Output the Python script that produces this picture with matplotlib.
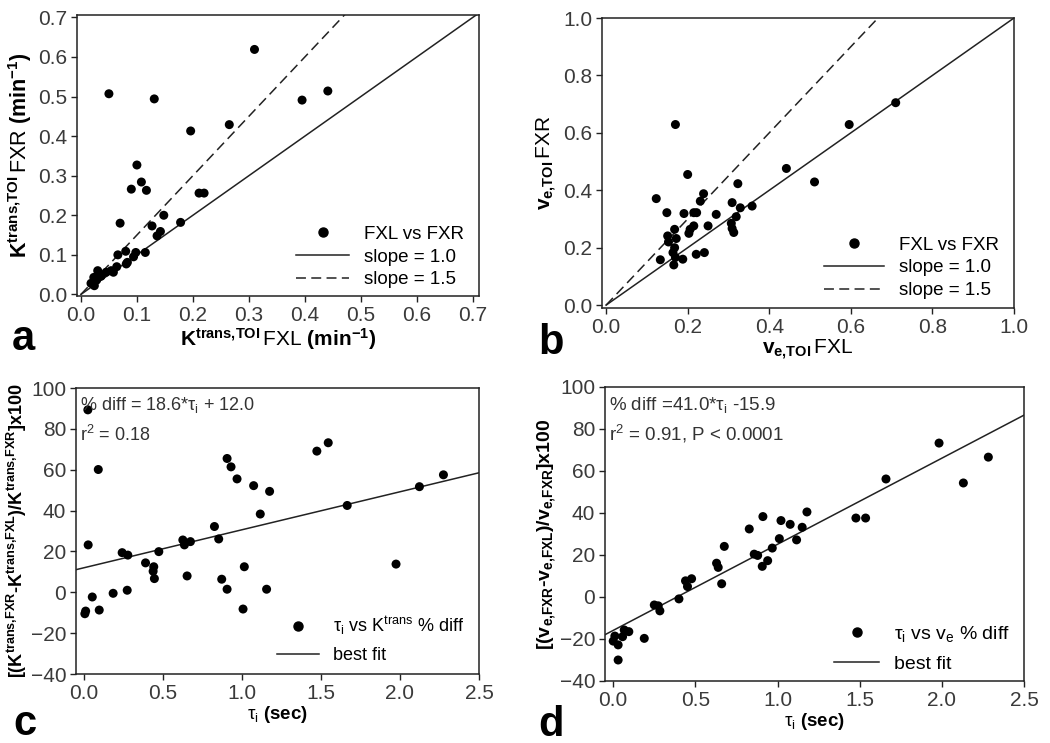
import matplotlib
matplotlib.use("Agg")
import matplotlib.pyplot as plt
from matplotlib import rc
from matplotlib.lines import Line2D
import numpy as np


# Fonts: Arial-like everywhere, also inside mathtext
rc('font', family='Liberation Sans', size=13)
rc('mathtext', fontset='custom', rm='Liberation Sans',
   it='Liberation Sans:italic', bf='Liberation Sans:bold')

# ---- data ----
# a: Ktrans FXL vs FXR
ktransFXL = [0.050, 0.310, 0.131, 0.395, 0.441, 0.265, 0.196, 0.100, 0.108, 0.090,
             0.117, 0.211, 0.220, 0.070, 0.148, 0.178, 0.127, 0.142, 0.136, 0.115,
             0.098, 0.080, 0.066, 0.094, 0.081, 0.064, 0.083, 0.054, 0.045, 0.030,
             0.023, 0.036, 0.018, 0.024, 0.058, 0.028]
ktransFXR = [0.507, 0.619, 0.494, 0.491, 0.514, 0.429, 0.413, 0.327, 0.284, 0.266,
             0.263, 0.256, 0.256, 0.180, 0.200, 0.182, 0.173, 0.159, 0.148, 0.106,
             0.106, 0.109, 0.100, 0.095, 0.077, 0.070, 0.081, 0.060, 0.056, 0.060,
             0.043, 0.046, 0.028, 0.022, 0.056, 0.036]

# b: ve FXL vs FXR
veFXL = [0.170, 0.200, 0.123, 0.710, 0.596, 0.442, 0.511, 0.323, 0.239, 0.231,
         0.309, 0.329, 0.358, 0.270, 0.149, 0.191, 0.215, 0.222, 0.206, 0.215,
         0.250, 0.319, 0.307, 0.309, 0.313, 0.168, 0.172, 0.151, 0.153, 0.168,
         0.164, 0.170, 0.133, 0.166, 0.188, 0.221, 0.241, 0.203]
veFXR = [0.629, 0.455, 0.371, 0.705, 0.629, 0.476, 0.429, 0.423, 0.388, 0.362,
         0.357, 0.339, 0.345, 0.316, 0.322, 0.319, 0.322, 0.322, 0.264, 0.276,
         0.276, 0.308, 0.285, 0.267, 0.253, 0.264, 0.232, 0.241, 0.220, 0.200,
         0.183, 0.166, 0.158, 0.140, 0.160, 0.177, 0.183, 0.250]

# c: tau_i vs Ktrans % diff
tauC = [0.025, 0.091, 0.027, 0.011, 0.006, 0.053, 0.097, 0.185, 0.274, 0.242,
        0.278, 0.390, 0.442, 0.438, 0.446, 0.474, 0.626, 0.636, 0.674, 0.653,
        0.826, 0.853, 0.872, 0.906, 0.906, 0.931, 0.969, 1.007, 1.015, 1.074,
        1.116, 1.156, 1.175, 1.474, 1.546, 1.666, 1.975, 2.123, 2.275]
kDiff = [89.3, 60.1, 23.2, -9.2, -10.5, -2.3, -8.7, -0.5, 1.0, 19.4,
         18.2, 14.4, 12.5, 10.3, 6.7, 19.9, 25.6, 23.2, 24.8, 8.0,
         32.2, 26.1, 6.4, 1.5, 65.5, 61.4, 55.5, -8.2, 12.5, 52.2,
         38.3, 1.5, 49.4, 69.1, 73.2, 42.5, 13.8, 51.7, 57.5]
fitC = (18.6, 12.0)

# d: tau_i vs ve % diff
tauD = [1.983, 2.283, 2.131, 1.660, 1.477, 1.536, 1.179, 1.150, 1.077, 1.021,
        1.011, 1.116, 0.911, 0.828, 0.968, 0.940, 0.907, 0.858, 0.879, 0.676,
        0.629, 0.639, 0.660, 0.477, 0.440, 0.452, 0.400, 0.250, 0.274, 0.284,
        0.067, 0.095, 0.189, 0.057, 0.010, 0.000, 0.030, 0.030]
veDiff = [73.3, 66.6, 54.3, 56.2, 37.6, 37.6, 40.5, 33.2, 34.6, 36.4,
          27.8, 27.2, 38.3, 32.4, 23.3, 17.3, 14.6, 20.4, 19.8, 24.1,
          16.1, 14.1, 6.3, 8.7, 7.7, 5.0, -0.9, -3.8, -4.2, -6.6,
          -15.7, -16.5, -19.7, -18.9, -18.6, -21.0, -22.8, -30.0]
fitD = (41.0, -15.9)

W, H = 1050.0, 743.0
fig = plt.figure(figsize=(W / 100, H / 100), dpi=100)

LINE = '#222222'
DASH = (0, (6.5, 3.5))
TAU_I = r'τ$_{\mathrm{i}}$'   # upright tau, like the original


def AddAxes(left, top, right, bottom):
    """pixel box -> axes"""
    ax = fig.add_axes([left / W, 1 - bottom / H, (right - left) / W, (bottom - top) / H])
    for s in ax.spines.values():
        s.set_linewidth(1.1)
        s.set_color(LINE)
    ax.tick_params(direction='out', length=4, width=1.0, top=False, right=False,
                   labelsize=15, colors=LINE, labelcolor='#3a3a3a', pad=3)
    return ax


def Dots(ax, x, y):
    ax.scatter(x, y, s=42, c='black', marker='o', edgecolors='none', zorder=3)


def LegendNoFrame(ax, handles, anchor, fontsize=13, hlen=3.0, spacing=0.3):
    ax.legend(handles=handles, loc='lower right', bbox_to_anchor=anchor, frameon=False,
              fontsize=fontsize, handlelength=hlen, handletextpad=0.8,
              labelspacing=spacing, borderpad=0.2)


dotHandle = lambda lab: Line2D([], [], ls='none', marker='o', ms=6.5, color='black', label=lab)
solidHandle = lambda lab: Line2D([], [], ls='-', lw=1.1, color=LINE, label=lab)
dashHandle = Line2D([], [], ls=DASH, lw=1.1, color=LINE, label='slope = 1.5')

# ---- a ----
axA = AddAxes(77, 15, 479, 296)
Dots(axA, ktransFXL, ktransFXR)
xx = np.array([0.0, 0.75])
axA.plot(xx, xx, '-', lw=1.1, color=LINE)
axA.plot(xx, 1.5 * xx, ls=DASH, lw=1.1, color=LINE)
axA.set_xlim(-0.007, 0.711)
axA.set_ylim(-0.004, 0.706)
axA.set_xticks(np.arange(0, 0.71, 0.1))
axA.set_yticks(np.arange(0, 0.71, 0.1))
axA.xaxis.set_major_formatter('{x:.1f}')
axA.yaxis.set_major_formatter('{x:.1f}')
axA.set_xlabel(r'$\mathbf{K^{trans{,}TOI}}\,\mathrm{FXL}\ \mathbf{(min^{-1})}$', fontsize=15, labelpad=1)
axA.set_ylabel(r'$\mathbf{K^{trans{,}TOI}}\,\mathrm{FXR}\ \mathbf{(min^{-1})}$', fontsize=15.5, labelpad=3)
LegendNoFrame(axA, [dotHandle('FXL vs FXR'), solidHandle('slope = 1.0'), dashHandle], (0.995, -0.02),
              fontsize=13.5, hlen=2.8)

# ---- b ----
axB = AddAxes(602, 18, 1014, 308)
Dots(axB, veFXL, veFXR)
xx = np.array([0.0, 1.0])
axB.plot(xx, xx, '-', lw=1.1, color=LINE)
axB.plot(xx, 1.5 * xx, ls=DASH, lw=1.1, color=LINE)
axB.set_xlim(-0.01, 1.0)
axB.set_ylim(-0.01, 1.0)
axB.set_xticks(np.arange(0, 1.01, 0.2))
axB.set_yticks(np.arange(0, 1.01, 0.2))
axB.xaxis.set_major_formatter('{x:.1f}')
axB.yaxis.set_major_formatter('{x:.1f}')
axB.set_xlabel(r'$\mathbf{v_{e{,}TOI}}\,\mathrm{FXL}$', fontsize=15, labelpad=1)
axB.set_ylabel(r'$\mathbf{v_{e{,}TOI}}\,\mathrm{FXR}$', fontsize=15, labelpad=3)
LegendNoFrame(axB, [dotHandle('FXL vs FXR'), solidHandle('slope = 1.0'), dashHandle], (0.995, -0.015),
              fontsize=13.5, hlen=3.2)

# ---- c ----
axC = AddAxes(76, 388, 479, 674)
Dots(axC, tauC, kDiff)
tt = np.array([-0.05, 2.5])
axC.plot(tt, fitC[0] * tt + fitC[1], '-', lw=1.1, color=LINE)
axC.set_xlim(-0.05, 2.5)
axC.set_ylim(-40, 100)
axC.set_xticks(np.arange(0, 2.51, 0.5))
axC.set_yticks(np.arange(-40, 101, 20))
axC.xaxis.set_major_formatter('{x:.1f}')
axC.set_xlabel(TAU_I + r' $\mathbf{(sec)}$', fontsize=13.5, labelpad=1)
axC.set_ylabel(r'[(K$^{\mathbf{trans{,}FXR}}$-K$^{\mathbf{trans{,}FXL}}$)/K$^{\mathbf{trans{,}FXR}}$]x100',
               fontsize=13, fontweight='bold', labelpad=1)
axC.text(0.01, 0.94, '% diff = 18.6*' + TAU_I + ' + 12.0', transform=axC.transAxes,
         fontsize=13, va='center', color='#333333')
axC.text(0.01, 0.836, r'r$^2$ = 0.18', transform=axC.transAxes,
         fontsize=13, va='center', color='#333333')
LegendNoFrame(axC, [dotHandle(TAU_I + r' vs K$^{\mathrm{trans}}$ % diff'),
                    solidHandle('best fit')], (0.995, -0.01), fontsize=13, hlen=2.3, spacing=0.55)

# ---- d ----
axD = AddAxes(605, 387, 1024, 681)
Dots(axD, tauD, veDiff)
axD.plot(tt, fitD[0] * tt + fitD[1], '-', lw=1.1, color=LINE)
axD.set_xlim(-0.05, 2.5)
axD.set_ylim(-40, 100)
axD.set_xticks(np.arange(0, 2.51, 0.5))
axD.set_yticks(np.arange(-40, 101, 20))
axD.xaxis.set_major_formatter('{x:.1f}')
axD.set_xlabel(TAU_I + r' $\mathbf{(sec)}$', fontsize=13.5, labelpad=1)
axD.set_ylabel(r'[(v$_{\mathbf{e{,}FXR}}$-v$_{\mathbf{e{,}FXL}}$)/v$_{\mathbf{e{,}FXR}}$]x100',
               fontsize=14, fontweight='bold', labelpad=1)
axD.text(0.01, 0.94, '% diff =41.0*' + TAU_I + ' -15.9', transform=axD.transAxes,
         fontsize=13.5, va='center', color='#333333')
axD.text(0.01, 0.84, r'r$^2$ = 0.91, P < 0.0001', transform=axD.transAxes,
         fontsize=13.5, va='center', color='#333333')
LegendNoFrame(axD, [dotHandle(TAU_I + r' vs v$_{\mathrm{e}}$ % diff'),
                    solidHandle('best fit')], (1.0, -0.02), fontsize=14, hlen=2.3, spacing=0.6)

# panel letters
for lab, (px, py) in zip('abcd', [(12, 350), (538, 354), (13, 735), (538, 736)]):
    fig.text(px / W, 1 - py / H, lab, fontsize=30, fontweight='bold', ha='left', va='baseline')

fig.savefig('out.png', dpi=100)
